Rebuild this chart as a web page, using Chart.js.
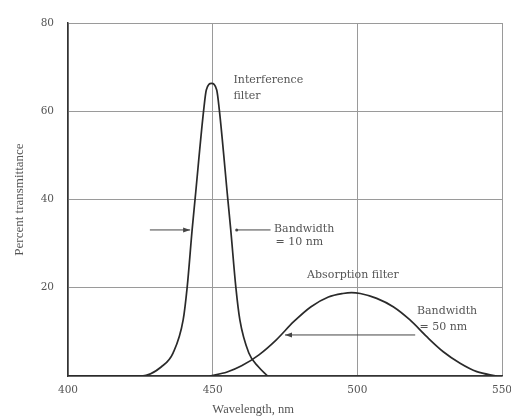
<!DOCTYPE html>
<html>
<head>
<meta charset="utf-8">
<script src="https://cdn.jsdelivr.net/npm/chart.js@4/dist/chart.umd.min.js"></script>
<style>
  html, body { margin: 0; padding: 0; background: #fff; }
  #wrap { width: 511px; height: 416px; }
</style>
</head>
<body>
<div id="wrap"><canvas id="filterChart" width="511" height="416"></canvas></div>
<script>
// axis ranges / ticks
const wavelengthTicks = [400, 450, 500, 550];
const transmittanceTicks = [0, 20, 40, 60, 80];

// interference filter (nm, % T)
const interfWl = [400, 425.4, 432.3, 436.3, 439.8, 441.2, 442.9, 443.95, 446.9, 447.8, 449.6, 451.4, 452.3, 455.2, 456.25, 458.0, 459.4, 462.5, 465.8, 469.0];
const interfT  = [0, 0, 2.1, 5.2, 12.7, 20.2, 33.1, 40.3, 60.3, 64.8, 66.3, 64.8, 60.3, 40.3, 33.1, 20.2, 12.7, 5.2, 2.1, 0];

// absorption filter (nm, % T)
const absorbWl = [449, 455, 460, 466, 472, 478, 484, 490, 495, 498, 501, 506.7, 512.4, 518.2, 524.0, 529.7, 535.5, 541.3, 548.2];
const absorbT  = [0, 0.9, 2.3, 4.8, 8.2, 12.3, 15.7, 17.9, 18.7, 18.9, 18.7, 17.6, 15.7, 12.7, 8.9, 5.5, 2.9, 1.0, 0];

// labels written on the plot
const noteText  = ['Interference', 'filter', 'Bandwidth', '= 10 nm', 'Absorption filter', 'Bandwidth', '= 50 nm'];
const noteWl    = [457.2, 457.2, 471.2, 471.7, 498.5, 520.6, 521.5];
const noteT     = [67.1, 63.5, 33.2, 30.3, 22.9, 14.6, 11.0];
const noteAlign = ['left', 'left', 'left', 'left', 'center', 'left', 'left'];

// bandwidth arrows: from -> to (head at "to")
const arrowFromWl = [428.3, 470.0, 520.0];
const arrowToWl   = [442.2, 458.3, 475.0];
const arrowT      = [33.1, 33.1, 9.3];
const arrowHead   = [true, false, true];

const xTitle = 'Wavelength, nm';
const xTitleWl = 464;

function toPoints(xs, ys) {
    return xs.map((x, i) => ({ x: x, y: ys[i] }));
}

const notesPlugin = {
    id: 'notes',
    afterDatasetsDraw(chart) {
        const ctx = chart.ctx;
        const xs = chart.scales.x, ys = chart.scales.y;
        ctx.save();
        ctx.fillStyle = '#555';
        ctx.font = '11px "DejaVu Serif"';
        ctx.textBaseline = 'middle';
        noteText.forEach((t, i) => {
            ctx.textAlign = noteAlign[i];
            ctx.fillText(t, xs.getPixelForValue(noteWl[i]), ys.getPixelForValue(noteT[i]));
        });

        ctx.strokeStyle = '#444';
        ctx.fillStyle = '#444';
        ctx.lineWidth = 1;
        arrowFromWl.forEach((w, i) => {
            let x1 = xs.getPixelForValue(w), x2 = xs.getPixelForValue(arrowToWl[i]);
            let y = ys.getPixelForValue(arrowT[i]);
            ctx.beginPath();
            ctx.moveTo(x1, y);
            ctx.lineTo(x2, y);
            ctx.stroke();
            let dir = x2 > x1 ? 1 : -1;
            if (arrowHead[i]) {
                ctx.beginPath();
                ctx.moveTo(x2, y);
                ctx.lineTo(x2 - dir * 7, y - 2.5);
                ctx.lineTo(x2 - dir * 7, y + 2.5);
                ctx.closePath();
                ctx.fill();
            } else {
                ctx.beginPath();
                ctx.arc(x2, y, 1.5, 0, Math.PI * 2);
                ctx.fill();
            }
        });

        ctx.fillStyle = '#555';
        ctx.font = '12.5px "Liberation Serif"';
        ctx.textAlign = 'center';
        ctx.fillText(xTitle, xs.getPixelForValue(xTitleWl), 410);
        ctx.restore();
    }
};

const ctx = document.getElementById('filterChart').getContext('2d');
new Chart(ctx, {
    type: 'scatter',
    data: {
        datasets: [
            {
                label: 'Interference filter',
                data: toPoints(interfWl, interfT),
                showLine: true,
                borderColor: '#2a2a2a',
                borderWidth: 1.7,
                pointRadius: 0,
                cubicInterpolationMode: 'monotone'
            },
            {
                label: 'Absorption filter',
                data: toPoints(absorbWl, absorbT),
                showLine: true,
                borderColor: '#2a2a2a',
                borderWidth: 1.7,
                pointRadius: 0,
                cubicInterpolationMode: 'monotone'
            }
        ]
    },
    options: {
        responsive: false,
        animation: false,
        layout: { padding: { top: 23, right: 0, left: 12, bottom: 0 } },
        plugins: {
            legend: { display: false },
            tooltip: { enabled: false }
        },
        scales: {
            x: {
                type: 'linear',
                min: wavelengthTicks[0],
                max: wavelengthTicks[wavelengthTicks.length - 1],
                afterBuildTicks: (s) => { s.ticks = wavelengthTicks.map(v => ({ value: v })); },
                grid: { color: '#9a9a9a', lineWidth: 1, drawTicks: false },
                border: { color: '#333', width: 1.5 },
                ticks: {
                    color: '#555',
                    padding: 8,
                    font: { family: 'DejaVu Serif', size: 10.5 }
                },
                afterFit: (s) => { s.height = 40; s.paddingRight = 9; s.paddingLeft = 0; }
            },
            y: {
                min: transmittanceTicks[0],
                max: transmittanceTicks[transmittanceTicks.length - 1],
                afterBuildTicks: (s) => { s.ticks = transmittanceTicks.map(v => ({ value: v })); },
                grid: { color: '#9a9a9a', lineWidth: 1, drawTicks: false },
                border: { color: '#333', width: 1.5 },
                ticks: {
                    color: '#555',
                    padding: 14,
                    font: { family: 'DejaVu Serif', size: 10.5 },
                    callback: (v) => v === 0 ? '' : v
                },
                title: {
                    display: true,
                    text: 'Percent transmittance',
                    color: '#555',
                    font: { family: 'Liberation Serif', size: 13 },
                    padding: 0
                },
                afterFit: (s) => { s.width = 56; }
            }
        }
    },
    plugins: [notesPlugin]
});
</script>
</body>
</html>
